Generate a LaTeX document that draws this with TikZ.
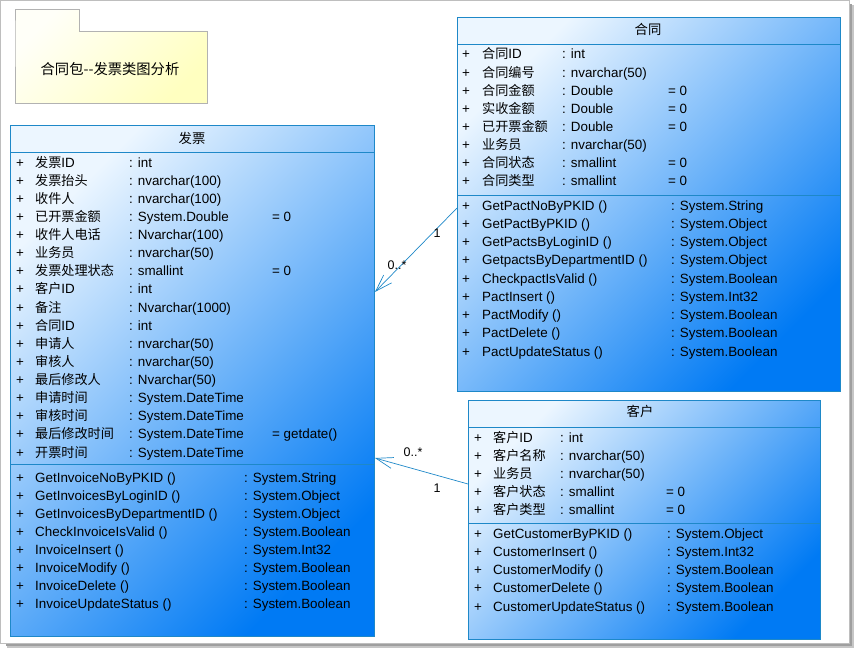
\documentclass[tikz,border=0pt]{standalone}
\usepackage{fontspec}
\setmainfont{Liberation Sans}
\newfontfamily\cjk[Scale=0.98]{Noto Sans CJK SC}
\usetikzlibrary{arrows.meta}

\definecolor{umlline}{RGB}{30,136,200}
\definecolor{umllight}{RGB}{236,246,255}
\definecolor{umldark}{RGB}{0,122,244}
\definecolor{noteline}{RGB}{178,178,178}
\definecolor{notelight}{RGB}{255,255,248}
\definecolor{notedark}{RGB}{255,255,192}
\definecolor{frameline}{RGB}{190,190,190}

\tikzset{
  classbox/.style={draw=umlline, line width=0.9pt, rectangle, inner sep=0pt, anchor=north west,
    top color=umllight, bottom color=umldark, shading angle=45},
  sepline/.style={draw=umlline, line width=0.9pt},
  member/.style={anchor=base west, inner sep=0pt, font=\fontsize{13.4}{15}\selectfont},
  classname/.style={inner sep=0pt, font=\cjk\fontsize{13.6}{15}\selectfont},
  assoc/.style={draw=umlline, line width=0.7pt, -{Straight Barb[angle=36:18pt, line width=0.7pt]}},
  mult/.style={inner sep=0pt, font=\fontsize{12.5}{14}\selectfont},
}

\begin{document}
\begin{tikzpicture}[x=1pt, y=-1pt]
\useasboundingbox (0,0) rectangle (856,650);

% frame with shadow
\fill[gray!75] (6,643) rectangle (852,646);
\fill[gray!45] (7,646) rectangle (853,648);
\fill[gray!75] (849,4) rectangle (852,646);
\fill[gray!45] (852,5) rectangle (854,648);
\draw[frameline, line width=0.8pt] (0.5,0.5) rectangle (849,643);

% package note
\shade[draw=noteline, line width=0.8pt, top color=notelight, bottom color=notedark, shading angle=45]
  (15,31) -- (15,9) -- (79,9) -- (79,31) -- (207,31) -- (207,103) -- (15,103) -- cycle;
\node[classname, font=\cjk\fontsize{14.6}{16}\selectfont] (note) at (110,69) {合同包--发票类图分析};

% class: fapiao
\node[classbox, minimum width=364pt, minimum height=511pt] (fp) at (10,125) {};
\node[classname] (fp-name) at (192,138) {发票};
\draw[sepline] (fp.west |- 0,152) -- (fp.east |- 0,152);
\draw[sepline] (fp.west |- 0,464) -- (fp.east |- 0,464);
\foreach \n/\t/\d [count=\i from 0] in {
  {\cjk 发票}ID/int/, {\cjk 发票抬头}/nvarchar(100)/, {\cjk 收件人}/nvarchar(100)/,
  {\cjk 已开票金额}/System.Double/= 0, {\cjk 收件人电话}/Nvarchar(100)/,
  {\cjk 业务员}/nvarchar(50)/, {\cjk 发票处理状态}/smallint/= 0, {\cjk 客户}ID/int/,
  {\cjk 备注}/Nvarchar(1000)/, {\cjk 合同}ID/int/, {\cjk 申请人}/nvarchar(50)/,
  {\cjk 审核人}/nvarchar(50)/, {\cjk 最后修改人}/Nvarchar(50)/,
  {\cjk 申请时间}/System.DateTime/, {\cjk 审核时间}/System.DateTime/,
  {\cjk 最后修改时间}/System.DateTime/= getdate(), {\cjk 开票时间}/System.DateTime/} {
  \node[member] (fp-p\i) at (16,{167+\i*18.13}) {+};
  \node[member] (fp-n\i) at (35,{167+\i*18.13}) {\n};
  \node[member] (fp-t\i) at (129,{167+\i*18.13}) {: \t};
  \node[member] (fp-d\i) at (272,{167+\i*18.13}) {\d};
}
\foreach \m/\t [count=\i from 0] in {
  GetInvoiceNoByPKID ()/System.String, GetInvoicesByLoginID ()/System.Object,
  GetInvoicesByDepartmentID ()/System.Object, CheckInvoiceIsValid ()/System.Boolean,
  InvoiceInsert ()/System.Int32, InvoiceModify ()/System.Boolean,
  InvoiceDelete ()/System.Boolean, InvoiceUpdateStatus ()/System.Boolean} {
  \node[member] (fp-m\i) at (16,{482+\i*18.14}) {+};
  \node[member] (fp-f\i) at (35,{482+\i*18.14}) {\m};
  \node[member] (fp-r\i) at (244,{482+\i*18.14}) {: \t};
}

% class: hetong
\node[classbox, minimum width=383pt, minimum height=374pt] (ht) at (457,17) {};
\node[classname] (ht-name) at (648,29) {合同};
\draw[sepline] (ht.west |- 0,44) -- (ht.east |- 0,44);
\draw[sepline] (ht.west |- 0,195) -- (ht.east |- 0,195);
\foreach \n/\t/\d [count=\i from 0] in {
  {\cjk 合同}ID/int/, {\cjk 合同编号}/nvarchar(50)/, {\cjk 合同金额}/Double/= 0,
  {\cjk 实收金额}/Double/= 0, {\cjk 已开票金额}/Double/= 0, {\cjk 业务员}/nvarchar(50)/,
  {\cjk 合同状态}/smallint/= 0, {\cjk 合同类型}/smallint/= 0} {
  \node[member] (ht-p\i) at (462,{59+\i*18.14}) {+};
  \node[member] (ht-n\i) at (482,{59+\i*18.14}) {\n};
  \node[member] (ht-t\i) at (562,{59+\i*18.14}) {: \t};
  \node[member] (ht-d\i) at (668,{59+\i*18.14}) {\d};
}
\foreach \m/\t [count=\i from 0] in {
  GetPactNoByPKID ()/System.String, GetPactByPKID ()/System.Object,
  GetPactsByLoginID ()/System.Object, GetpactsByDepartmentID ()/System.Object,
  CheckpactIsValid ()/System.Boolean, PactInsert ()/System.Int32,
  PactModify ()/System.Boolean, PactDelete ()/System.Boolean,
  PactUpdateStatus ()/System.Boolean} {
  \node[member] (ht-m\i) at (462,{210+\i*18.25}) {+};
  \node[member] (ht-f\i) at (482,{210+\i*18.25}) {\m};
  \node[member] (ht-r\i) at (671,{210+\i*18.25}) {: \t};
}

% class: kehu
\node[classbox, minimum width=352pt, minimum height=239pt] (kh) at (468,400) {};
\node[classname] (kh-name) at (640,411) {客户};
\draw[sepline] (kh.west |- 0,427) -- (kh.east |- 0,427);
\draw[sepline] (kh.west |- 0,523) -- (kh.east |- 0,523);
\foreach \n/\t/\d [count=\i from 0] in {
  {\cjk 客户}ID/int/, {\cjk 客户名称}/nvarchar(50)/, {\cjk 业务员}/nvarchar(50)/,
  {\cjk 客户状态}/smallint/= 0, {\cjk 客户类型}/smallint/= 0} {
  \node[member] (kh-p\i) at (474,{442+\i*18.2}) {+};
  \node[member] (kh-n\i) at (493,{442+\i*18.2}) {\n};
  \node[member] (kh-t\i) at (560,{442+\i*18.2}) {: \t};
  \node[member] (kh-d\i) at (666,{442+\i*18.2}) {\d};
}
\foreach \m/\t [count=\i from 0] in {
  GetCustomerByPKID ()/System.Object, CustomerInsert ()/System.Int32,
  CustomerModify ()/System.Boolean, CustomerDelete ()/System.Boolean,
  CustomerUpdateStatus ()/System.Boolean} {
  \node[member] (kh-m\i) at (474,{538+\i*18.3}) {+};
  \node[member] (kh-f\i) at (493,{538+\i*18.3}) {\m};
  \node[member] (kh-r\i) at (667,{538+\i*18.3}) {: \t};
}

% associations
\coordinate (ht-out) at (ht.west |- 0,208);
\coordinate (fp-in1) at (fp.east |- 0,292);
\coordinate (kh-out) at (kh.west |- 0,484);
\coordinate (fp-in2) at (fp.east |- 0,458);
\draw[assoc] (ht-out) -- (fp-in1);
\draw[assoc] (kh-out) -- (fp-in2);
\node[mult] (m1-ht) at (437,233) {1};
\node[mult] (m1-fp) at (397,265) {0..*};
\node[mult] (m2-fp) at (413,452) {0..*};
\node[mult] (m2-kh) at (437,488) {1};
\end{tikzpicture}
\end{document}
